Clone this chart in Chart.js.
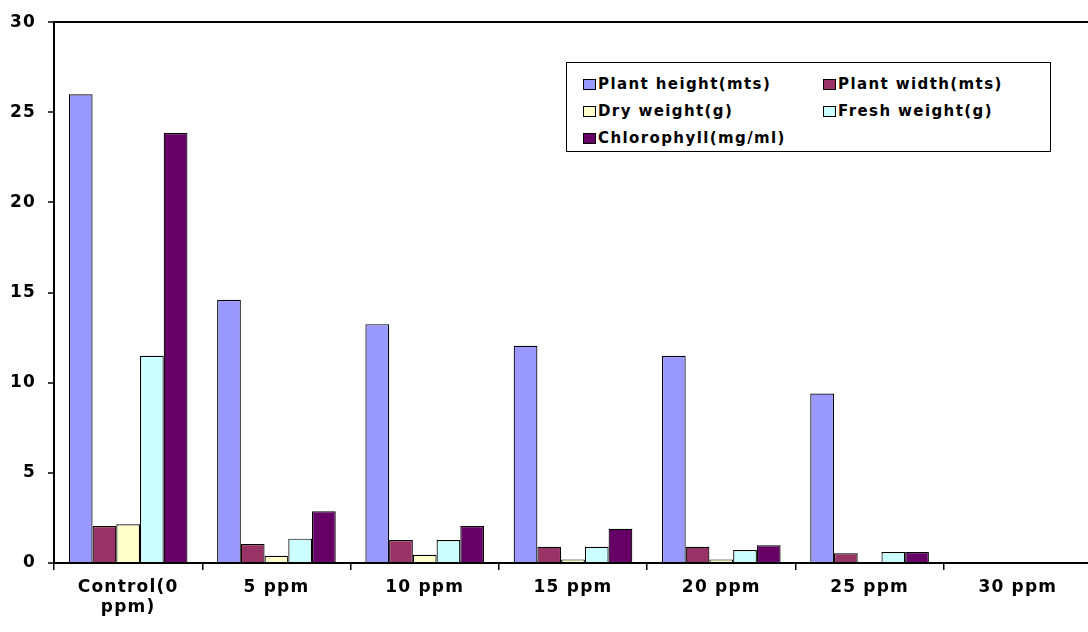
<!DOCTYPE html>
<html>
<head>
<meta charset="utf-8">
<script src="https://cdn.jsdelivr.net/npm/chart.js@4/dist/chart.umd.min.js"></script>
<style>
    html, body { margin: 0; padding: 0; background: #fff; }
    #wrap { position: relative; width: 1088px; height: 632px; overflow: hidden; }
    #chart { position: absolute; left: 0; top: 0; }
    #legend {
        position: absolute; left: 566px; top: 62px; width: 483px; height: 88px;
        border: 1.5px solid #000; background: #fff;
        font: bold 15px "DejaVu Sans", sans-serif; letter-spacing: 1.4px; color: #000;
    }
    #legend .item { position: absolute; display: flex; align-items: center; white-space: nowrap; }
    #legend .sw { width: 13px; height: 11px; border: 1px solid #000; margin-right: 2px; box-sizing: border-box; }
</style>
</head>
<body>
<div id="wrap">
    <canvas id="chart" width="1092" height="632"></canvas>
    <div id="legend"></div>
</div>
<script>
const categories = [["Control(0", "ppm)"], "5 ppm", "10 ppm", "15 ppm", "20 ppm", "25 ppm", "30 ppm"];
const seriesNames = ["Plant height(mts)", "Plant width(mts)", "Dry weight(g)", "Fresh weight(g)", "Chlorophyll(mg/ml)"];
const plantHeight = [26.0, 14.6, 13.25, 12.05, 11.5, 9.4, 0];
const plantWidth = [2.05, 1.05, 1.28, 0.9, 0.9, 0.54, 0];
const dryWeight = [2.15, 0.4, 0.46, 0.2, 0.2, 0, 0];
const freshWeight = [11.5, 1.35, 1.28, 0.9, 0.72, 0.61, 0];
const chlorophyll = [23.85, 2.87, 2.05, 1.9, 0.98, 0.61, 0];
const yTicks = [0, 5, 10, 15, 20, 25, 30];
const colors = ["#9999FF", "#993366", "#FFFFCC", "#CCFFFF", "#660066"];

const values = [plantHeight, plantWidth, dryWeight, freshWeight, chlorophyll];
const datasets = seriesNames.map((name, i) => ({
    label: name,
    data: values[i],
    backgroundColor: colors[i],
    borderColor: "#000",
    borderWidth: 1.2,
    borderSkipped: "bottom",
    categoryPercentage: 0.8,
    barPercentage: 1
}));

const spacing = {
    id: "spacing",
    beforeLayout(chart) { chart.ctx.letterSpacing = "1.2px"; },
    beforeDraw(chart) { chart.ctx.letterSpacing = "1.2px"; }
};

const tickFont = { family: "'DejaVu Sans', sans-serif", size: 17, weight: "bold" };

new Chart(document.getElementById("chart"), {
    type: "bar",
    data: { labels: categories, datasets },
    options: {
        responsive: false,
        animation: false,
        layout: { padding: { top: 22, left: 0, right: 0, bottom: 0 } },
        plugins: { legend: { display: false }, tooltip: { enabled: false } },
        scales: {
            x: {
                afterFit: (scale) => { scale.height = 69; },
                border: { color: "#000", width: 2 },
                grid: { offset: true, drawOnChartArea: false, color: "#000", tickLength: 7, lineWidth: 1.5 },
                ticks: { color: "#000", font: tickFont, padding: 7, maxRotation: 0, autoSkip: false }
            },
            y: {
                min: 0,
                max: 30,
                afterFit: (scale) => { scale.width = 54; },
                afterBuildTicks: (scale) => { scale.ticks = yTicks.map(v => ({ value: v })); },
                border: { color: "#000", width: 2 },
                grid: {
                    color: (ctx) => (ctx.tick && ctx.tick.value === 30 ? "#000" : "rgba(0,0,0,0)"),
                    lineWidth: 2,
                    tickColor: "#000",
                    tickWidth: 1.5,
                    tickLength: 6
                },
                ticks: { color: "#000", font: tickFont, padding: 12 }
            }
        }
    },
    plugins: [spacing]
});

const legend = document.getElementById("legend");
const spots = [[16, 12], [256, 12], [16, 39], [256, 39], [16, 66]];
seriesNames.forEach((name, i) => {
    const item = document.createElement("div");
    item.className = "item";
    item.style.left = spots[i][0] + "px";
    item.style.top = spots[i][1] + "px";
    const sw = document.createElement("span");
    sw.className = "sw";
    sw.style.background = colors[i];
    item.appendChild(sw);
    item.appendChild(document.createTextNode(name));
    legend.appendChild(item);
});
</script>
</body>
</html>
